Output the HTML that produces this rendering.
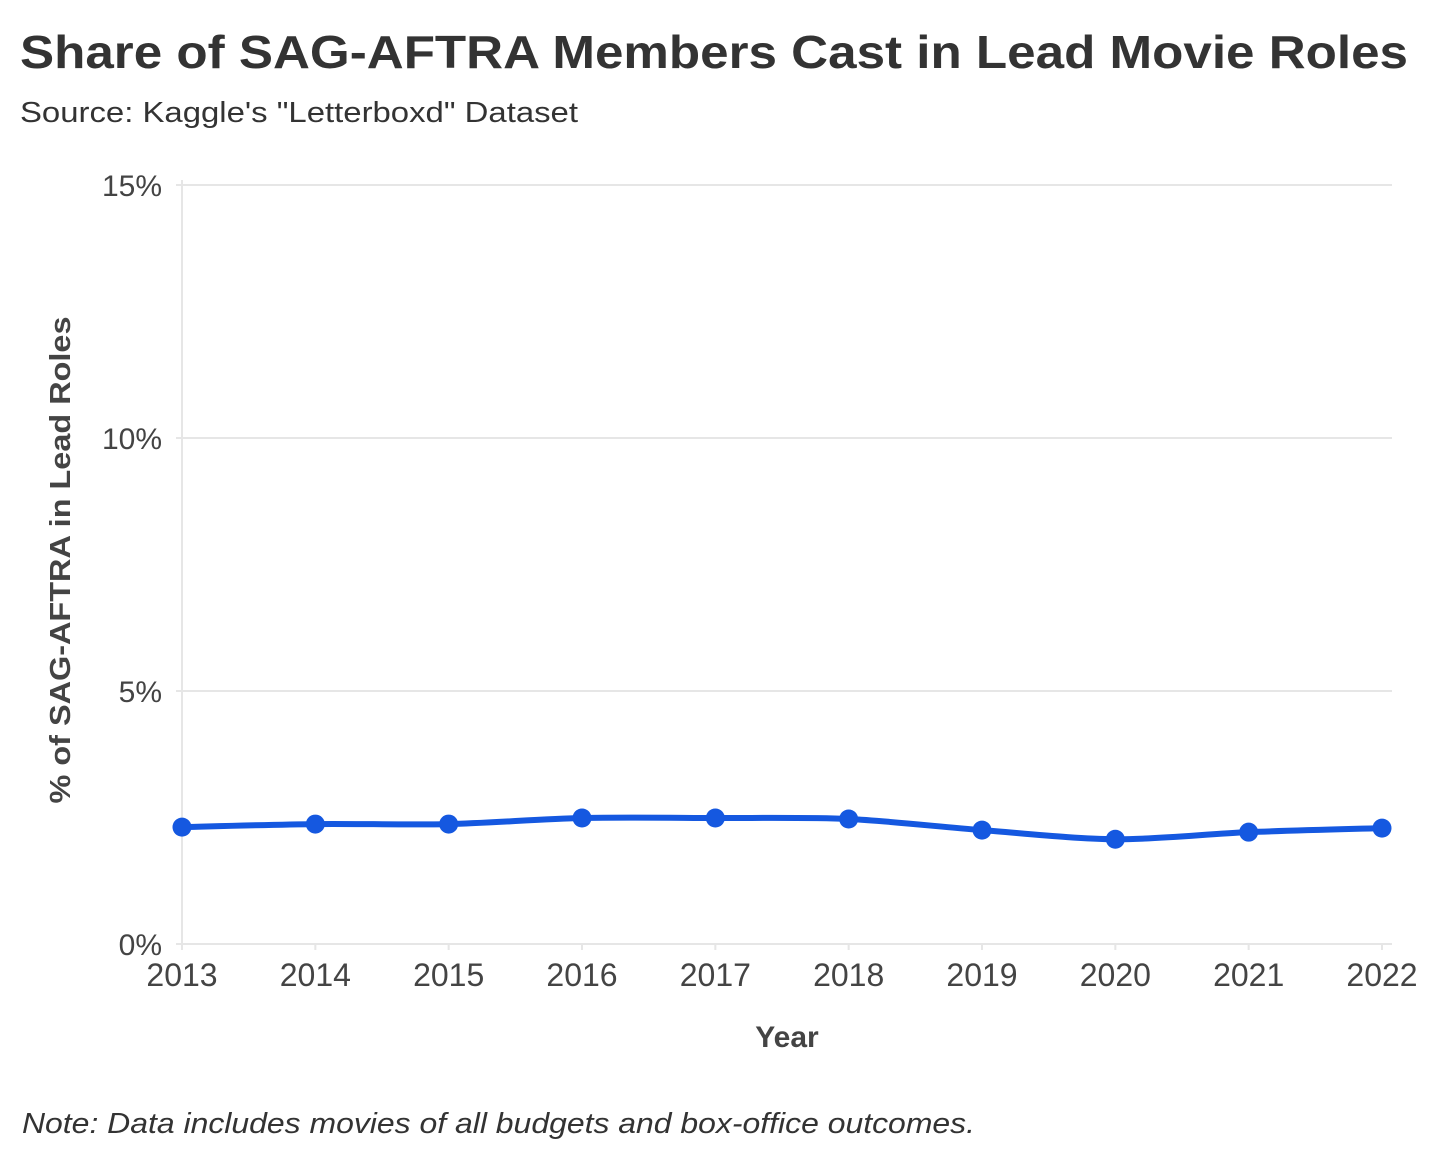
<!DOCTYPE html>
<html><head><meta charset="utf-8"><style>
body{margin:0;background:#fff;}
svg{display:block;font-family:"Liberation Sans",sans-serif;}
</style></head><body>
<svg id="chart" width="1456" height="1161">
<text x="20" y="68" font-size="46" font-weight="bold" fill="#333" textLength="1388" lengthAdjust="spacingAndGlyphs">Share of SAG-AFTRA Members Cast in Lead Movie Roles</text>
<text x="20" y="122" font-size="29" fill="#333" textLength="558" lengthAdjust="spacingAndGlyphs">Source: Kaggle's "Letterboxd" Dataset</text>
<g id="grid"></g>
<g id="yticks"></g>
<g id="xticks"></g>
<text x="787" y="1047" font-size="30" font-weight="bold" fill="#444" text-anchor="middle">Year</text>
<text transform="translate(70,560) rotate(-90)" font-size="29" font-weight="bold" fill="#444" text-anchor="middle" textLength="487" lengthAdjust="spacingAndGlyphs">% of SAG-AFTRA in Lead Roles</text>
<g id="series"></g>
<text x="22" y="1133" font-size="29" font-style="italic" fill="#333" textLength="953" lengthAdjust="spacingAndGlyphs">Note: Data includes movies of all budgets and box-office outcomes.</text>
</svg>
<script>
const years=[2013,2014,2015,2016,2017,2018,2019,2020,2021,2022];
const shares=[2.31,2.37,2.37,2.49,2.49,2.47,2.25,2.07,2.21,2.29];
const yTicks=[0,5,10,15];
const yTickLabels=["0%","5%","10%","15%"];
const NS="http://www.w3.org/2000/svg";
const x0=182,x1=1382,yB=944,yT=185;
const xs=v=>x0+(v-years[0])/(years[years.length-1]-years[0])*(x1-x0);
const ys=v=>yB-v/15*(yB-yT);
function mk(t,a,p){const e=document.createElementNS(NS,t);for(const k in a)e.setAttribute(k,a[k]);p.appendChild(e);return e;}
const grid=document.getElementById('grid'),yt=document.getElementById('yticks'),xt=document.getElementById('xticks'),se=document.getElementById('series');
const ax=mk('line',{x1:x0,x2:x0,y1:yT-5,y2:yB,stroke:'#e6e6e6','stroke-width':2},grid);


yTicks.forEach((v,i)=>{
 const l=mk('line',{x1:x0-6,x2:1392,y1:ys(v),y2:ys(v),stroke:'#e6e6e6','stroke-width':2},grid);
 
 
 const t=mk('text',{x:162,y:ys(v)+11,'font-size':30,fill:'#444','text-anchor':'end'},yt);
 t.textContent=yTickLabels[i];
 
 
});
years.forEach(y=>{
 const l=mk('line',{x1:xs(y),x2:xs(y),y1:yB,y2:yB+6,stroke:'#e6e6e6','stroke-width':2},grid);
 
 
 const t=mk('text',{x:xs(y),y:986,'font-size':32,fill:'#444','text-anchor':'middle'},xt);
 t.textContent=y;
 
 
});
const P=years.map((y,i)=>[xs(y),ys(shares[i])]);
let d=`M${P[0][0]},${P[0][1]}`;
for(let i=0;i<P.length-1;i++){
 const p0=P[Math.max(0,i-1)],p1=P[i],p2=P[i+1],p3=P[Math.min(P.length-1,i+2)];
 const k=0.15;
 d+=` C${p1[0]+(p2[0]-p0[0])*k},${p1[1]+(p2[1]-p0[1])*k} ${p2[0]-(p3[0]-p1[0])*k},${p2[1]-(p3[1]-p1[1])*k} ${p2[0]},${p2[1]}`;
}
const path=mk('path',{d:d,fill:'none',stroke:'#1558e0','stroke-width':6},se);


P.forEach(p=>{
 const c=mk('circle',{cx:p[0],cy:p[1],r:9.5,fill:'#1558e0'},se);
 
 
});
</script>
</body></html>
